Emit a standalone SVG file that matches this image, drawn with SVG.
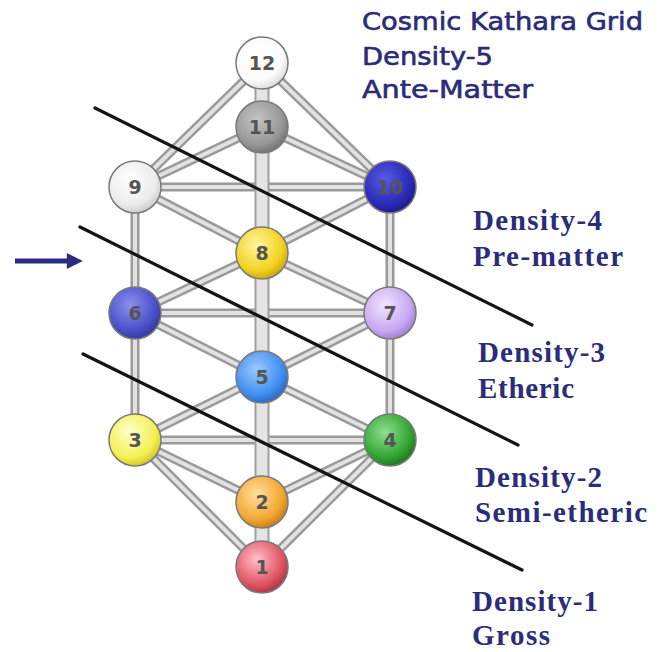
<svg xmlns="http://www.w3.org/2000/svg" width="658" height="652" viewBox="0 0 658 652">
<style>
.rail-o{stroke:#9a9a9a;stroke-width:9;fill:none;stroke-linecap:butt}
.rail-i{stroke:#e2e2e2;stroke-width:4;fill:none}
.core-o{stroke:#a0a0a0;stroke-width:15;fill:none}
.core-i{stroke:#e4e4e4;stroke-width:11;fill:none}
.cut{stroke:#141414;stroke-width:3.2;fill:none;stroke-linecap:round}
.node{stroke:#7a7a7a;stroke-width:1.5}
.num{font-family:"DejaVu Sans",sans-serif;font-weight:bold;font-size:19px;fill:#555555;text-anchor:middle}
.title{font-family:"DejaVu Sans","Verdana",sans-serif;font-size:24px;fill:#2b2b78;stroke:#2b2b78;stroke-width:0.6}
.lab{font-family:"Liberation Serif","Times New Roman",serif;font-weight:bold;font-size:29px;fill:#2c2c7a}
</style>
<defs>
<radialGradient id="g12" cx="0.4" cy="0.35" r="0.7"><stop offset="0" stop-color="#ffffff"/><stop offset="0.7" stop-color="#fbfbfb"/><stop offset="1" stop-color="#d8d8d8"/></radialGradient>
<radialGradient id="g11" cx="0.4" cy="0.35" r="0.7"><stop offset="0" stop-color="#c4c4c4"/><stop offset="0.7" stop-color="#979797"/><stop offset="1" stop-color="#6e6e6e"/></radialGradient>
<radialGradient id="g9" cx="0.4" cy="0.35" r="0.7"><stop offset="0" stop-color="#ffffff"/><stop offset="0.7" stop-color="#ececec"/><stop offset="1" stop-color="#c8c8c8"/></radialGradient>
<radialGradient id="g10" cx="0.4" cy="0.35" r="0.7"><stop offset="0" stop-color="#5a5ae8"/><stop offset="0.7" stop-color="#2a2ab8"/><stop offset="1" stop-color="#1a1a80"/></radialGradient>
<radialGradient id="g8" cx="0.4" cy="0.35" r="0.7"><stop offset="0" stop-color="#fff6a0"/><stop offset="0.7" stop-color="#f2d21e"/><stop offset="1" stop-color="#c8a010"/></radialGradient>
<radialGradient id="g6" cx="0.4" cy="0.35" r="0.7"><stop offset="0" stop-color="#8a90f0"/><stop offset="0.7" stop-color="#4a50c8"/><stop offset="1" stop-color="#2e3490"/></radialGradient>
<radialGradient id="g7" cx="0.4" cy="0.35" r="0.7"><stop offset="0" stop-color="#f0e4ff"/><stop offset="0.7" stop-color="#c8a8f2"/><stop offset="1" stop-color="#9a7ac8"/></radialGradient>
<radialGradient id="g5" cx="0.4" cy="0.35" r="0.7"><stop offset="0" stop-color="#9ccaff"/><stop offset="0.7" stop-color="#3f8ef0"/><stop offset="1" stop-color="#2a62b8"/></radialGradient>
<radialGradient id="g3" cx="0.4" cy="0.35" r="0.7"><stop offset="0" stop-color="#ffffd0"/><stop offset="0.7" stop-color="#f4f050"/><stop offset="1" stop-color="#c8c420"/></radialGradient>
<radialGradient id="g4" cx="0.4" cy="0.35" r="0.7"><stop offset="0" stop-color="#8ee08e"/><stop offset="0.7" stop-color="#32a432"/><stop offset="1" stop-color="#1c701c"/></radialGradient>
<radialGradient id="g2" cx="0.4" cy="0.35" r="0.7"><stop offset="0" stop-color="#ffe0a0"/><stop offset="0.7" stop-color="#f4a630"/><stop offset="1" stop-color="#c07818"/></radialGradient>
<radialGradient id="g1" cx="0.4" cy="0.35" r="0.7"><stop offset="0" stop-color="#ffc0c8"/><stop offset="0.7" stop-color="#e05462"/><stop offset="1" stop-color="#a83040"/></radialGradient>
<marker id="ah" viewBox="0 0 10 10" refX="2" refY="5" markerWidth="3.6" markerHeight="3.2" orient="auto" markerUnits="strokeWidth"><path d="M0,0 L10,5 L0,10 Z" fill="#2b2b80"/></marker>
</defs>
<rect width="658" height="652" fill="#ffffff"/>
<g id="connectors">
<g class="rail-o">
<line x1="262" y1="63" x2="135" y2="187"/>
<line x1="262" y1="63" x2="390" y2="187"/>
<line x1="262" y1="127" x2="135" y2="187"/>
<line x1="262" y1="127" x2="390" y2="187"/>
<line x1="135" y1="187" x2="390" y2="187"/>
<line x1="135" y1="187" x2="135" y2="313"/>
<line x1="390" y1="187" x2="390" y2="313"/>
<line x1="135" y1="187" x2="262" y2="253"/>
<line x1="390" y1="187" x2="262" y2="253"/>
<line x1="135" y1="313" x2="262" y2="253"/>
<line x1="390" y1="313" x2="262" y2="253"/>
<line x1="135" y1="313" x2="390" y2="313"/>
<line x1="135" y1="313" x2="262" y2="377"/>
<line x1="390" y1="313" x2="262" y2="377"/>
<line x1="135" y1="313" x2="135" y2="440"/>
<line x1="390" y1="313" x2="390" y2="440"/>
<line x1="135" y1="440" x2="262" y2="377"/>
<line x1="390" y1="440" x2="262" y2="377"/>
<line x1="135" y1="440" x2="390" y2="440"/>
<line x1="135" y1="440" x2="262" y2="502"/>
<line x1="390" y1="440" x2="262" y2="502"/>
<line x1="135" y1="440" x2="262" y2="567"/>
<line x1="390" y1="440" x2="262" y2="567"/>
</g>
<g class="rail-i">
<line x1="262" y1="63" x2="135" y2="187"/>
<line x1="262" y1="63" x2="390" y2="187"/>
<line x1="262" y1="127" x2="135" y2="187"/>
<line x1="262" y1="127" x2="390" y2="187"/>
<line x1="135" y1="187" x2="390" y2="187"/>
<line x1="135" y1="187" x2="135" y2="313"/>
<line x1="390" y1="187" x2="390" y2="313"/>
<line x1="135" y1="187" x2="262" y2="253"/>
<line x1="390" y1="187" x2="262" y2="253"/>
<line x1="135" y1="313" x2="262" y2="253"/>
<line x1="390" y1="313" x2="262" y2="253"/>
<line x1="135" y1="313" x2="390" y2="313"/>
<line x1="135" y1="313" x2="262" y2="377"/>
<line x1="390" y1="313" x2="262" y2="377"/>
<line x1="135" y1="313" x2="135" y2="440"/>
<line x1="390" y1="313" x2="390" y2="440"/>
<line x1="135" y1="440" x2="262" y2="377"/>
<line x1="390" y1="440" x2="262" y2="377"/>
<line x1="135" y1="440" x2="390" y2="440"/>
<line x1="135" y1="440" x2="262" y2="502"/>
<line x1="390" y1="440" x2="262" y2="502"/>
<line x1="135" y1="440" x2="262" y2="567"/>
<line x1="390" y1="440" x2="262" y2="567"/>
</g>
<line class="core-o" x1="262" y1="63" x2="262" y2="567"/>
<line class="core-i" x1="262" y1="63" x2="262" y2="567"/>
</g>
<g id="n12"><circle class="node" cx="262" cy="63" r="26" fill="url(#g12)"/><text class="num" x="262" y="70">12</text></g>
<g id="n11"><circle class="node" cx="262" cy="127" r="26" fill="url(#g11)"/><text class="num" x="262" y="134">11</text></g>
<g id="n9"><circle class="node" cx="135" cy="187" r="26" fill="url(#g9)"/><text class="num" x="135" y="194">9</text></g>
<g id="n10"><circle class="node" cx="390" cy="187" r="26" fill="url(#g10)"/><text class="num" x="390" y="194">10</text></g>
<g id="n8"><circle class="node" cx="262" cy="253" r="26" fill="url(#g8)"/><text class="num" x="262" y="260">8</text></g>
<g id="n6"><circle class="node" cx="135" cy="313" r="26" fill="url(#g6)"/><text class="num" x="135" y="320">6</text></g>
<g id="n7"><circle class="node" cx="390" cy="313" r="26" fill="url(#g7)"/><text class="num" x="390" y="320">7</text></g>
<g id="n5"><circle class="node" cx="262" cy="377" r="26" fill="url(#g5)"/><text class="num" x="262" y="384">5</text></g>
<g id="n3"><circle class="node" cx="135" cy="440" r="26" fill="url(#g3)"/><text class="num" x="135" y="447">3</text></g>
<g id="n4"><circle class="node" cx="390" cy="440" r="26" fill="url(#g4)"/><text class="num" x="390" y="447">4</text></g>
<g id="n2"><circle class="node" cx="262" cy="502" r="26" fill="url(#g2)"/><text class="num" x="262" y="509">2</text></g>
<g id="n1"><circle class="node" cx="262" cy="567" r="26" fill="url(#g1)"/><text class="num" x="262" y="574">1</text></g>
<g id="dividers">
<line class="cut" x1="95" y1="108" x2="532" y2="325"/>
<line class="cut" x1="80" y1="227" x2="518" y2="445"/>
<line class="cut" x1="83" y1="354" x2="522" y2="570"/>
</g>
<g id="pointer">
<line x1="15" y1="261" x2="70" y2="261" stroke="#2b2b80" stroke-width="5" marker-end="url(#ah)"/>
</g>
<g id="labels">
<text class="title" x="362" y="30" textLength="281" lengthAdjust="spacingAndGlyphs">Cosmic Kathara Grid</text>
<text class="title" x="362" y="65" textLength="131" lengthAdjust="spacingAndGlyphs">Density-5</text>
<text class="title" x="362" y="98" textLength="171" lengthAdjust="spacingAndGlyphs">Ante-Matter</text>
<text class="lab" x="473" y="230" textLength="129">Density-4</text>
<text class="lab" x="473" y="266" textLength="150">Pre-matter</text>
<text class="lab" x="478" y="362" textLength="127">Density-3</text>
<text class="lab" x="478" y="398" textLength="96">Etheric</text>
<text class="lab" x="475" y="487" textLength="127">Density-2</text>
<text class="lab" x="475" y="522" textLength="172">Semi-etheric</text>
<text class="lab" x="472" y="611" textLength="126">Density-1</text>
<text class="lab" x="472" y="645" textLength="78">Gross</text>
</g>
</svg>
